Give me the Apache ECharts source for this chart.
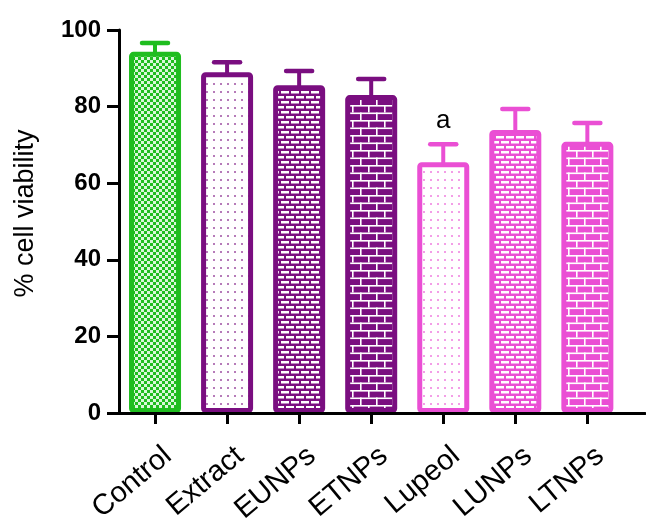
<!DOCTYPE html>
<html>
<head>
<meta charset="utf-8">
<script src="https://cdn.jsdelivr.net/npm/echarts@6/dist/echarts.min.js"></script>
<style>
html,body{margin:0;padding:0;background:#fff;}
#chart{width:646px;height:526px;}
</style>
</head>
<body>
<div id="chart"></div>
<script>
// ---- data ----
var categories = ['Control', 'Extract', 'EUNPs', 'ETNPs', 'Lupeol', 'LUNPs', 'LTNPs'];
var viability = [94.3, 89.0, 85.6, 83.0, 65.5, 73.9, 70.8];
var errors = [2.3, 2.6, 3.7, 4.2, 4.7, 5.5, 4.9];
var annotations = ['', '', '', '', 'a', '', ''];
var yTicks = [0, 20, 40, 60, 80, 100];

// ---- styles ----
var GREEN = '#1fbd1f', PURPLE = '#7a0e80', PINK = '#ea4fd4';
var barColors = [GREEN, PURPLE, PURPLE, PURPLE, PINK, PINK, PINK];
var barPatterns = ['checker', 'dots', 'smallbrick', 'bigbrick', 'dots', 'smallbrick', 'bigbrick'];
var FONT = 'Liberation Sans, Arial, sans-serif';

function makePattern(type, color) {
  var c = document.createElement('canvas');
  var ctx;
  if (type === 'checker') {
    c.width = 6; c.height = 6; ctx = c.getContext('2d');
    ctx.fillStyle = color; ctx.fillRect(0, 0, 6, 6);
    ctx.fillStyle = '#d9f7d9';
    ctx.fillRect(0, 0, 3, 3); ctx.fillRect(3, 3, 3, 3);
  } else if (type === 'dots') {
    c.width = 7; c.height = 8; ctx = c.getContext('2d');
    ctx.fillStyle = '#ffffff'; ctx.fillRect(0, 0, 7, 8);
    ctx.globalAlpha = 0.55;
    ctx.fillStyle = color; ctx.fillRect(3, 3, 2, 2);
  } else if (type === 'smallbrick') {
    c.width = 20; c.height = 10; ctx = c.getContext('2d');
    ctx.fillStyle = color; ctx.fillRect(0, 0, 20, 10);
    ctx.fillStyle = '#ffffff';
    ctx.fillRect(1, 1, 8, 2.5); ctx.fillRect(11, 1, 8, 2.5);
    ctx.fillRect(-4, 6, 8, 2.5); ctx.fillRect(6, 6, 8, 2.5); ctx.fillRect(16, 6, 8, 2.5);
  } else if (type === 'bigbrick') {
    c.width = 16; c.height = 15; ctx = c.getContext('2d');
    ctx.fillStyle = color; ctx.fillRect(0, 0, 16, 15);
    ctx.fillStyle = '#ffffff';
    ctx.fillRect(0, 0, 16, 1.6);
    ctx.fillRect(0, 7.5, 16, 1.6);
    ctx.fillRect(0, 0, 1.6, 7.5);
    ctx.fillRect(8, 7.5, 1.6, 7.5);
  }
  return { image: c, repeat: 'repeat' };
}

var barData = categories.map(function (name, i) {
  return {
    value: [i, viability[i]],
    itemStyle: {
      color: makePattern(barPatterns[i], barColors[i]),
      borderColor: barColors[i],
      borderWidth: 5,
      borderRadius: 2
    }
  };
});
var errData = categories.map(function (name, i) {
  return [i, viability[i], errors[i]];
});
var tickIdx = categories.map(function (n, i) { return i; });

var chart = echarts.init(document.getElementById('chart'), null, { renderer: 'canvas' });
chart.setOption({
  backgroundColor: '#ffffff',
  animation: false,
  textStyle: { fontFamily: FONT },
  grid: { left: 119, right: 1, top: 30, bottom: 113, containLabel: false, outerBoundsMode: 'none' },
  xAxis: {
    type: 'value',
    min: -0.5,
    max: 6.8,
    z: 10,
    splitLine: { show: false },
    axisLine: { show: true, onZero: false, lineStyle: { color: '#000', width: 3 } },
    axisTick: { show: true, customValues: tickIdx, length: 11, lineStyle: { color: '#000', width: 3 } },
    axisLabel: {
      show: true,
      customValues: tickIdx,
      rotate: 40,
      margin: 24,
      fontSize: 29,
      lineHeight: 40,
      verticalAlign: 'top',
      color: '#000',
      fontFamily: FONT,
      formatter: function (v) { return categories[Math.round(v)] || ''; }
    }
  },
  yAxis: {
    type: 'value',
    min: yTicks[0],
    max: yTicks[yTicks.length - 1],
    interval: 20,
    z: 10,
    name: '% cell viability',
    nameLocation: 'middle',
    nameRotate: 90,
    nameGap: 80,
    nameTextStyle: { fontSize: 27, color: '#000', fontFamily: FONT, padding: [0, 0, 0, 16] },
    splitLine: { show: false },
    axisLine: { show: true, onZero: false, lineStyle: { color: '#000', width: 3 } },
    axisTick: { show: true, length: 12, lineStyle: { color: '#000', width: 3 } },
    axisLabel: { fontSize: 24, fontWeight: 'bold', color: '#000', margin: 18, fontFamily: FONT }
  },
  series: [
    {
      type: 'bar',
      barWidth: 52,
      data: barData,
      z: 2
    },
    {
      type: 'custom',
      z: 3,
      data: errData,
      renderItem: function (params, api) {
        var i = params.dataIndex;
        var x = api.value(0), y = api.value(1), e = api.value(2);
        var base = api.coord([x, y]);
        var top = api.coord([x, y + e]);
        var col = barColors[i];
        var children = [
          { type: 'line', shape: { x1: base[0], y1: base[1] + 2, x2: top[0], y2: top[1] },
            style: { stroke: col, lineWidth: 4 } },
          { type: 'line', shape: { x1: top[0] - 13, y1: top[1], x2: top[0] + 13, y2: top[1] },
            style: { stroke: col, lineWidth: 4.5, lineCap: 'round' } }
        ];
        var ann = annotations[i];
        if (ann) {
          children.push({ type: 'text', x: top[0], y: top[1] - 10,
            style: { text: ann, fill: '#000', font: '26px ' + FONT,
              align: 'center', verticalAlign: 'bottom' } });
        }
        return { type: 'group', children: children };
      }
    }
  ]
});
</script>
</body>
</html>
